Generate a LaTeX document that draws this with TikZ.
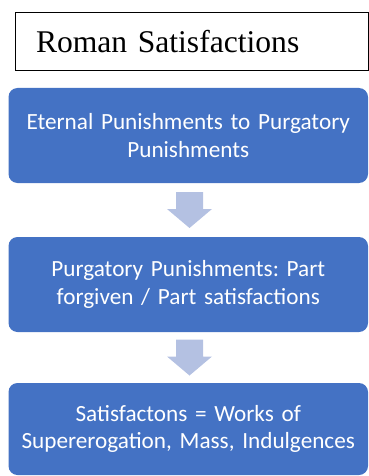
\documentclass[tikz,border=0pt]{standalone}
\usepackage{fontspec}
\setmainfont{Liberation Serif}
\newfontfamily\calibri{Carlito}
\usetikzlibrary{calc}
\definecolor{boxblue}{HTML}{4472C4}
\definecolor{arrowblue}{HTML}{B4C1E2}
\tikzset{
  titlebox/.style={draw=black, line width=1pt, minimum width=353pt, minimum height=58pt,
    inner xsep=21pt, text width=311pt, align=left, font=\frenchspacing\fontsize{31.6}{36}\selectfont},
  bluebox/.style={fill=boxblue, rounded corners=9pt, minimum width=359.5pt, text=white,
    text width=340pt, align=center, font=\frenchspacing\calibri\fontsize{23.2}{27.5}\selectfont},
  flowarrow/.style={fill=arrowblue}
}
\begin{document}
\begin{tikzpicture}[x=1pt,y=-1pt]
\useasboundingbox (0,0) rectangle (369,476);
\node[titlebox] (t) at (191.5,42) {Roman Satisfactions};
\node[bluebox, minimum height=95pt] (b1) at (188.25,135.5) {Eternal Punishments to Purgatory\\Punishments};
\node[bluebox, minimum height=95pt] (b2) at (188.25,284.5) {Purgatory Punishments: Part\\forgiven / Part satisfactions};
\node[bluebox, minimum height=92pt] (b3) at (188.25,429) {Satisfactons = Works of\\Supererogation, Mass, Indulgences};
\foreach \a/\b in {b1/b2, b2/b3}{
  \fill[flowarrow] ($($(\a.south)!0.5!(\b.north)$)+(1.25,0)$) coordinate (c)
    ++(-13.5,-18) -- ++(27,0) -- ++(0,17) -- ++(9,0) -- ++(-22.5,19) -- ++(-22.5,-19) -- ++(9,0) -- cycle;
}
\end{tikzpicture}
\end{document}
